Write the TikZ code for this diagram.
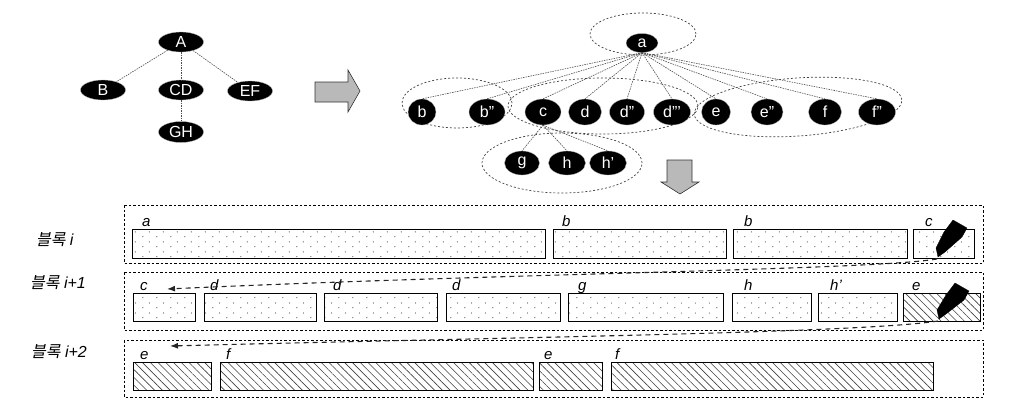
\documentclass[tikz,border=0pt]{standalone}
\usepackage{fontspec}
\setmainfont{Liberation Sans}
\setsansfont{Liberation Sans}
\newfontfamily\kr[FakeSlant=0.2]{Noto Sans CJK KR}
\usetikzlibrary{shapes.geometric,arrows.meta,patterns.meta}
\tikzdeclarepattern{
  name=sdots, type=uncolored,
  bounding box={(0pt,0pt) and (14pt,10pt)},
  tile size={(14pt,10pt)},
  code={\fill (3pt,2.5pt) circle[radius=0.65pt]; \fill (10pt,7.5pt) circle[radius=0.65pt];}
}
\begin{document}
\begin{tikzpicture}[x=1pt,y=-1pt,
  blk/.style={ellipse, fill=black, draw=gray!60, line width=0.3pt, text=white, inner sep=0pt, font=\sffamily\fontsize{16}{16}\selectfont},
  tedge/.style={draw=gray!60!black, dash pattern=on 1.5pt off 1pt, line width=0.6pt},
  grp/.style={draw=gray!50!black, dash pattern=on 2pt off 2pt, line width=0.7pt},
  outer/.style={draw=black, dash pattern=on 2.5pt off 2pt, line width=0.6pt},
  dotbox/.style={draw=black, line width=0.8pt, pattern=sdots, pattern color=gray!70!black, anchor=north west, inner sep=0pt, outer sep=0pt},
  hatbox/.style={draw=black, line width=0.8pt, pattern={Lines[angle=-45,distance=5.5pt,line width=0.6pt]}, pattern color=gray!50!black, anchor=north west, inner sep=0pt, outer sep=0pt},
  lbl/.style={font=\itshape\fontsize{15}{15}\selectfont, anchor=base west, inner sep=0pt},
  rowlbl/.style={font=\fontsize{16}{18}\selectfont, anchor=center, inner sep=0pt},
  moveline/.style={draw=gray!30!black, line width=1.1pt, dash pattern=on 5pt off 4pt, -{Latex[length=8pt,width=6pt]}},
  garrow/.style={fill=gray!55, draw=gray!40!black, line width=0.6pt},
  blob/.style={fill=black, draw=black, line width=0.3pt}
]
\useasboundingbox (0,0) rectangle (1019,399);

% ---------- left tree ----------
\node[blk, minimum width=45pt, minimum height=20pt] (A)  at (181,42) {A};
\node[blk, minimum width=45pt, minimum height=20pt] (B)  at (103,90) {B};
\node[blk, minimum width=45pt, minimum height=20pt] (CD) at (181,90) {CD};
\node[blk, minimum width=45pt, minimum height=20pt] (EF) at (250,91) {EF};
\node[blk, minimum width=45pt, minimum height=21pt] (GH) at (181,132) {GH};
\draw[tedge] (A) -- (B);
\draw[tedge] (A) -- (CD);
\draw[tedge] (A) -- (EF);
\draw[tedge] (CD) -- (GH);

% right block arrow
\draw[garrow] (315,82) -- (348,82) -- (348,70) -- (360,91) -- (348,112) -- (348,102) -- (315,102) -- cycle;

% ---------- right tree ----------
\draw[grp] (643,34) ellipse [x radius=53pt, y radius=21pt];
\draw[grp] (457,103) ellipse [x radius=55pt, y radius=25pt];
\draw[grp] (603,106) ellipse [x radius=95pt, y radius=28pt];
\draw[grp] (798,107) [rotate around={4:(798,107)}] ellipse [x radius=104pt, y radius=29pt];
\draw[grp] (562,163) ellipse [x radius=80pt, y radius=30pt];

\node[blk, minimum width=32pt, minimum height=19pt] (a) at (642,43) {a};
\foreach \n/\t/\x/\w in {b/b/422/28, b2/b"/487/36, c/c/543/36, d/d/585/33, d2/d"/627/35, d3/d"'/672/37, e/e/716/29, e2/e"/767/32, f/f/825/33, f2/f"/877/37}{
  \node[blk, minimum width=\w pt, minimum height=26pt] (\n) at (\x,112) {\t};
}
\node[blk, minimum width=35pt, minimum height=24pt] (g)  at (522,163) {g};
\node[blk, minimum width=37pt, minimum height=24pt] (h)  at (567,163) {h};
\node[blk, minimum width=37pt, minimum height=24pt] (h2) at (608,163) {h'};
\foreach \n in {b,b2,c,d,d2,d3,e,e2,f,f2}{
  \draw[tedge] (a.south) -- (\n.north);
}
\foreach \n in {g,h,h2}{
  \draw[tedge] (c.south) -- (\n.north);
}

% down block arrow
\draw[garrow] (667,160) -- (692,160) -- (692,182) -- (699,182) -- (680,194) -- (661,182) -- (667,182) -- cycle;

% ---------- row labels ----------
\node[rowlbl] (Li)  at (55,240) {{\kr 블록} \textit{i}};
\node[rowlbl] (Li1) at (58,283) {{\kr 블록} \textit{i+1}};
\node[rowlbl] (Li2) at (59,352) {{\kr 블록} \textit{i+2}};

% ---------- outer dashed frames ----------
\draw[outer] (124,205) rectangle (983,263);
\draw[outer] (124,272) rectangle (983,330);
\draw[outer] (124,340) rectangle (983,397);

% ---------- row i ----------
\node[dotbox, minimum width=413pt, minimum height=29pt] (ra)  at (132,229) {};
\node[dotbox, minimum width=173pt, minimum height=29pt] (rb1) at (553,229) {};
\node[dotbox, minimum width=174pt, minimum height=29pt] (rb2) at (733,229) {};
\node[dotbox, minimum width=61pt,  minimum height=29pt] (rc)  at (913,229) {};
\node[lbl] at (142,226) {a};
\node[lbl] at (562,226) {b};
\node[lbl] at (744,226) {b};
\node[lbl] at (925,226) {c};

% ---------- row i+1 ----------
\node[dotbox, minimum width=62pt,  minimum height=28pt] (sc)  at (133,293) {};
\node[dotbox, minimum width=112pt, minimum height=28pt] (sd1) at (204,293) {};
\node[dotbox, minimum width=113pt, minimum height=28pt] (sd2) at (324,293) {};
\node[dotbox, minimum width=114pt, minimum height=28pt] (sd3) at (446,293) {};
\node[dotbox, minimum width=155pt, minimum height=28pt] (sg)  at (568,293) {};
\node[dotbox, minimum width=79pt,  minimum height=28pt] (sh)  at (732,293) {};
\node[dotbox, minimum width=79pt,  minimum height=28pt] (sh2) at (818,293) {};
\node[hatbox, minimum width=77pt,  minimum height=28pt] (se)  at (903,293) {};
\node[lbl] at (140,290) {c};
\node[lbl] at (210,290) {d};
\node[lbl] at (333,290) {d};
\node[lbl] at (452,290) {d};
\node[lbl] at (578,290) {g};
\node[lbl] at (744,290) {h};
\node[lbl] at (830,290) {h'};
\node[lbl] at (912,290) {e};

% ---------- row i+2 ----------
\node[hatbox, minimum width=78pt,  minimum height=28pt] (te1) at (133,362) {};
\node[hatbox, minimum width=313pt, minimum height=28pt] (tf1) at (220,362) {};
\node[hatbox, minimum width=63pt,  minimum height=28pt] (te2) at (539,362) {};
\node[hatbox, minimum width=322pt, minimum height=28pt] (tf2) at (611,362) {};
\node[lbl] at (140,359) {e};
\node[lbl] at (226,359) {f};
\node[lbl] at (544,359) {e};
\node[lbl] at (615,359) {f};

% ---------- move markers ----------
\fill[blob] (953,220) -- (967,228) -- (962,237) -- (945,252) -- (938,257) -- (936,248) -- (944,232) -- cycle;
\fill[blob] (955,283) -- (969,291) -- (964,300) -- (946,314) -- (939,319) -- (937,310) -- (946,295) -- cycle;
\coordinate (s1) at (937,259);
\coordinate (e1) at (167,289);
\coordinate (s2) at (938,321);
\coordinate (e2) at (170,346);
\draw[moveline] (s1) .. controls (870,270) and (520,273) .. (e1);
\draw[moveline] (s2) .. controls (860,333) and (520,337) .. (e2);
\end{tikzpicture}
\end{document}
